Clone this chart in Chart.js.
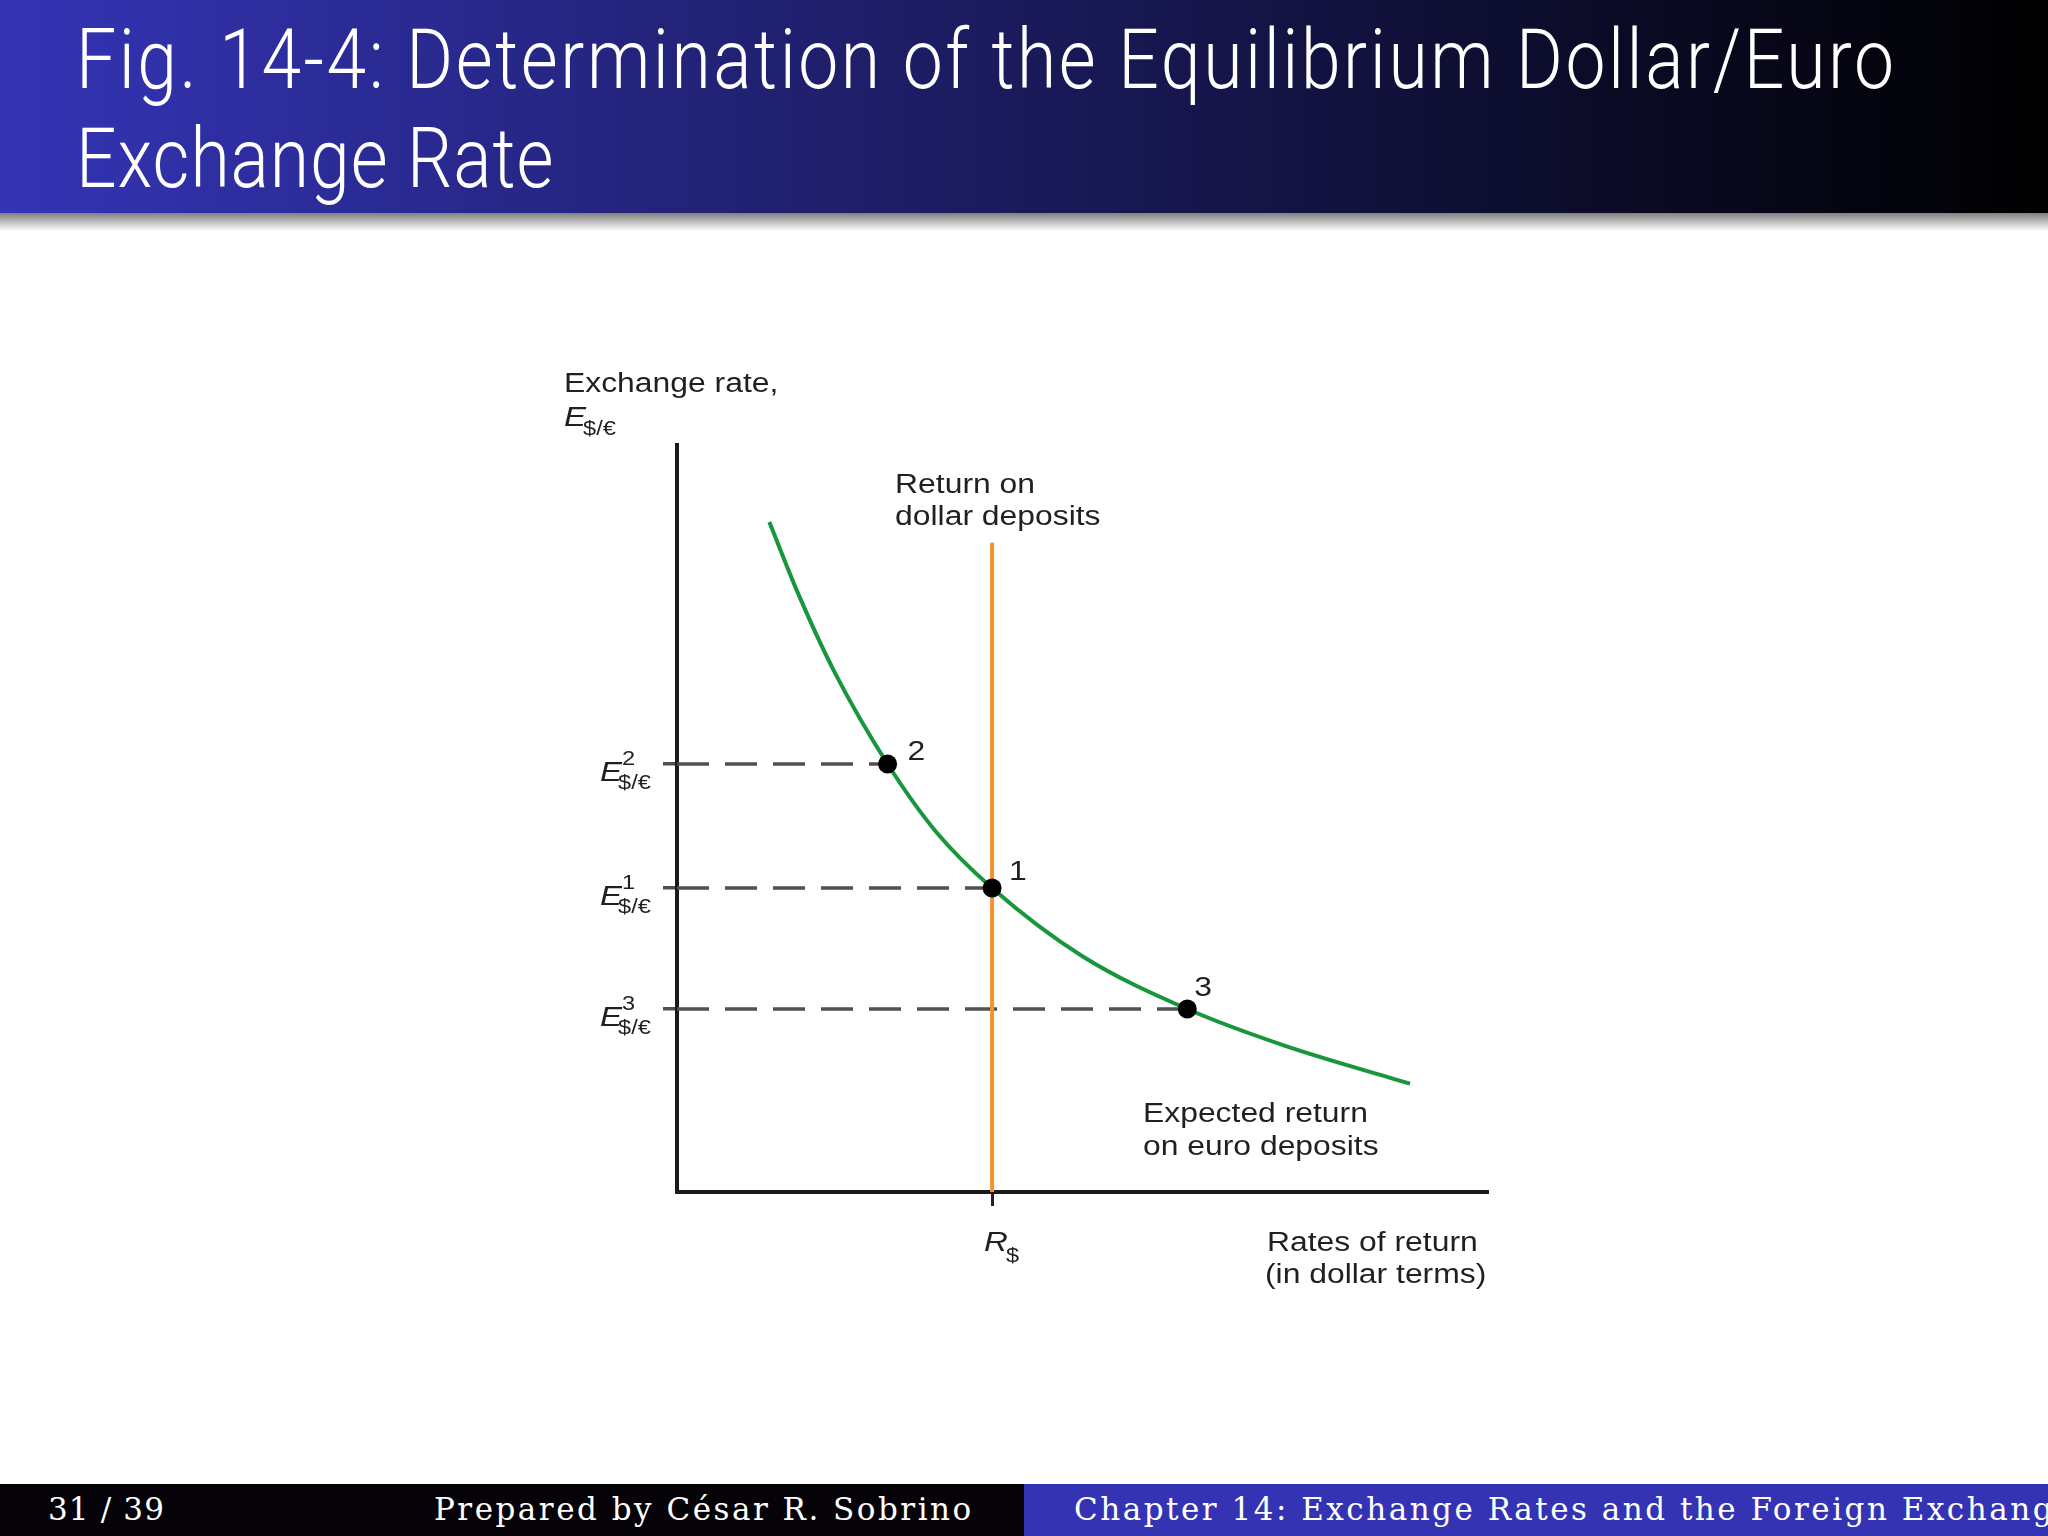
<!DOCTYPE html>
<html><head><meta charset="utf-8">
<script src="https://cdn.jsdelivr.net/npm/chart.js@4.4.1/dist/chart.umd.min.js"></script>
<style>
html,body{margin:0;padding:0;background:#fff;width:2048px;height:1536px;overflow:hidden;position:relative;}
#titlebar{position:absolute;left:0;top:0;width:2048px;height:213px;background:linear-gradient(to right,#3434b6 0%,#000 100%);z-index:2;}
#shadow{position:absolute;left:0;top:213px;width:2048px;height:18px;background:linear-gradient(to bottom,rgba(0,0,0,0.5),rgba(0,0,0,0));z-index:2;}
.t{position:absolute;white-space:nowrap;line-height:1;margin:0;}
.title{font-family:Roboto,Lato,"Open Sans",sans-serif;color:#fff;font-size:83px;font-weight:300;transform-origin:0 0;}
#footL{position:absolute;left:0;top:1484px;width:1024px;height:52px;background:#050308;z-index:2;overflow:hidden;}
#footR{position:absolute;left:1024px;top:1484px;width:1024px;height:52px;background:#3333b3;z-index:2;overflow:hidden;}
.foot{font-family:"DejaVu Serif","Liberation Serif",serif;color:#fff;font-size:31px;}
#c{position:absolute;left:0;top:0;z-index:1;}
</style></head>
<body>
<div id="titlebar">
  <div class="t title" id="t1">Fig. 14-4: Determination of the Equilibrium Dollar/Euro</div>
  <div class="t title" id="t2">Exchange Rate</div>
</div>
<div id="shadow"></div>
<canvas id="c" width="2048" height="1536"></canvas>
<div id="footL">
  <div class="t foot" id="f1">31 / 39</div>
  <div class="t foot" id="f2">Prepared by César R. Sobrino</div>
</div>
<div id="footR">
  <div class="t foot" id="f3">Chapter 14: Exchange Rates and the Foreign Exchange Market</div>
</div>
<script>
// ---- data (axis units: 0..100 on both axes) ----
const curveX = [11.4, 15.0, 19.5, 26.0, 32.0, 38.9, 50.0, 63.0, 75.0, 90.5];   // expected return on euro deposits
const curveY = [89.7, 80.0, 69.5, 57.3, 48.2, 40.7, 31.6, 24.5, 19.6, 14.5];
const pointLabels = ['2', '1', '3'];
const pointX = [26.0, 38.9, 63.0];
const pointY = [57.3, 40.7, 24.5];               // E2, E1, E3
const rDollar = 38.9;                             // R$
const dollarLineTop = 86.9;
const yTickSup = ['2', '1', '3'];

// ---- text placement helpers (HTML) ----
function place(el, x, base){
  let m=el.querySelector('.bm');
  if(!m){m=document.createElement('span');m.className='bm';
    m.style.display='inline-block';m.style.width='0';m.style.height='0';m.style.verticalAlign='baseline';
    el.appendChild(m);}
  el.style.left=x+'px';el.style.top='0px';
  const off=m.getBoundingClientRect().top-el.getBoundingClientRect().top;
  el.style.top=(base-off)+'px';
}
function fit(el, target, sx){
  sx=sx||1;
  el.style.letterSpacing='0px';
  const w=el.offsetWidth;
  const n=el.textContent.length;
  const ls=(target/sx-w)/n;
  el.style.letterSpacing=ls+'px';
  if(sx!==1) el.style.transform='scaleX('+sx+')';
  return ls;
}
function layoutText(){
  const TS=0.86;
  const t1=document.getElementById('t1'),t2=document.getElementById('t2');
  fit(t1,1821,TS);fit(t2,478,TS);
  place(t1,76,88);place(t2,76,187);
  const f1=document.getElementById('f1'),f2=document.getElementById('f2'),f3=document.getElementById('f3');
  fit(f1,117);const ls=fit(f2,540);f3.style.letterSpacing=ls+'px';
  place(f1,48,36);place(f2,434,36);place(f3,50,36);
}
layoutText();

// ---- chart ----
const SX = 1.18;
const FONT = '"Liberation Sans", Arial, Helvetica, sans-serif';
function txt(ctx, s, x, y, size, italic){
  ctx.save();
  ctx.font=(italic?'italic ':'')+size+'px '+FONT;
  ctx.translate(x,y);ctx.scale(SX,1);
  ctx.fillText(s,0,0);
  const w=ctx.measureText(s).width*SX;
  ctx.restore();
  return w;
}
const labelPlugin={
  id:'labels',
  afterDraw(chart){
    const {ctx,scales:{x,y},chartArea:ca}=chart;
    ctx.save();
    ctx.fillStyle='#231f20';ctx.textAlign='left';ctx.textBaseline='alphabetic';
    // y-axis title
    txt(ctx,'Exchange rate,',ca.left-113,ca.top-53,27,false);
    let w=txt(ctx,'E',ca.left-113,ca.top-19,28,true);
    txt(ctx,'$/€',ca.left-113+w-3,ca.top-10,20,false);
    // y tick labels
    pointY.forEach((v,i)=>{
      const py=y.getPixelForValue(v);
      const lx=ca.left-77;
      const we=txt(ctx,'E',lx,py+17,28,true);
      txt(ctx,yTickSup[i],lx+we,py+1,20,false);
      txt(ctx,'$/€',lx+we-4,py+25,20,false);
    });
    // x tick label
    const rx=x.getPixelForValue(rDollar);
    const wr=txt(ctx,'R',rx-8,ca.bottom+59,28,true);
    txt(ctx,'$',rx-8+wr-2,ca.bottom+70,20,false);
    // point labels
    const offs=[[20,-4],[17,-8],[7,-13]];
    pointX.forEach((v,i)=>{
      txt(ctx,pointLabels[i],x.getPixelForValue(v)+offs[i][0],y.getPixelForValue(pointY[i])+offs[i][1],27,false);
    });
    // curve captions
    const ty=y.getPixelForValue(dollarLineTop);
    txt(ctx,'Return on',rx-97,ty-50,27,false);
    txt(ctx,'dollar deposits',rx-97,ty-18,27,false);
    txt(ctx,'Expected return',ca.left+466,ca.bottom-70,27,false);
    txt(ctx,'on euro deposits',ca.left+466,ca.bottom-37,27,false);
    txt(ctx,'Rates of return',ca.left+590,ca.bottom+59,27,false);
    txt(ctx,'(in dollar terms)',ca.left+588,ca.bottom+91,27,false);
    ctx.restore();
  }
};

const pts=(xs,ys)=>xs.map((v,i)=>({x:v,y:ys[i]}));
const dashSets=pointY.map((v,i)=>({
  data:[{x:0,y:v},{x:pointX[i],y:v}],
  showLine:true,borderColor:'#505050',borderWidth:3.5,borderDash:[32,16],
  pointRadius:0,fill:false,tension:0
}));

new Chart(document.getElementById('c'),{
  type:'scatter',
  data:{datasets:[
    {data:pts(pointX,pointY),pointRadius:9.5,pointHoverRadius:9.5,pointBackgroundColor:'#000',pointBorderColor:'#000',pointBorderWidth:0,showLine:false},
    {data:pts(curveX,curveY),showLine:true,borderColor:'#17963c',borderWidth:4,pointRadius:0,cubicInterpolationMode:'monotone',fill:false},
    {data:[{x:rDollar,y:0},{x:rDollar,y:dollarLineTop}],showLine:true,borderColor:'#f5912f',borderWidth:4,pointRadius:0,fill:false},
    ...dashSets
  ]},
  options:{
    responsive:false,animation:false,devicePixelRatio:1,
    layout:{padding:{left:663,top:445,right:561,bottom:330}},
    plugins:{legend:{display:false},tooltip:{enabled:false},title:{display:false}},
    scales:{
      x:{type:'linear',min:0,max:100,
        afterBuildTicks:(s)=>{s.ticks=[{value:rDollar}];},
        ticks:{display:false},
        grid:{display:true,drawOnChartArea:false,drawTicks:true,tickLength:14,color:'#222',lineWidth:3},
        border:{display:true,color:'#1a1a1a',width:4}},
      y:{type:'linear',min:0,max:100,
        afterBuildTicks:(s)=>{s.ticks=pointY.map(v=>({value:v}));},
        ticks:{display:false},
        grid:{display:true,drawOnChartArea:false,drawTicks:true,tickLength:14,color:'#505050',lineWidth:3.5},
        border:{display:true,color:'#1a1a1a',width:4}}
    }
  },
  plugins:[labelPlugin]
});
if(document.fonts&&document.fonts.ready){document.fonts.ready.then(layoutText);}
</script>
</body></html>
